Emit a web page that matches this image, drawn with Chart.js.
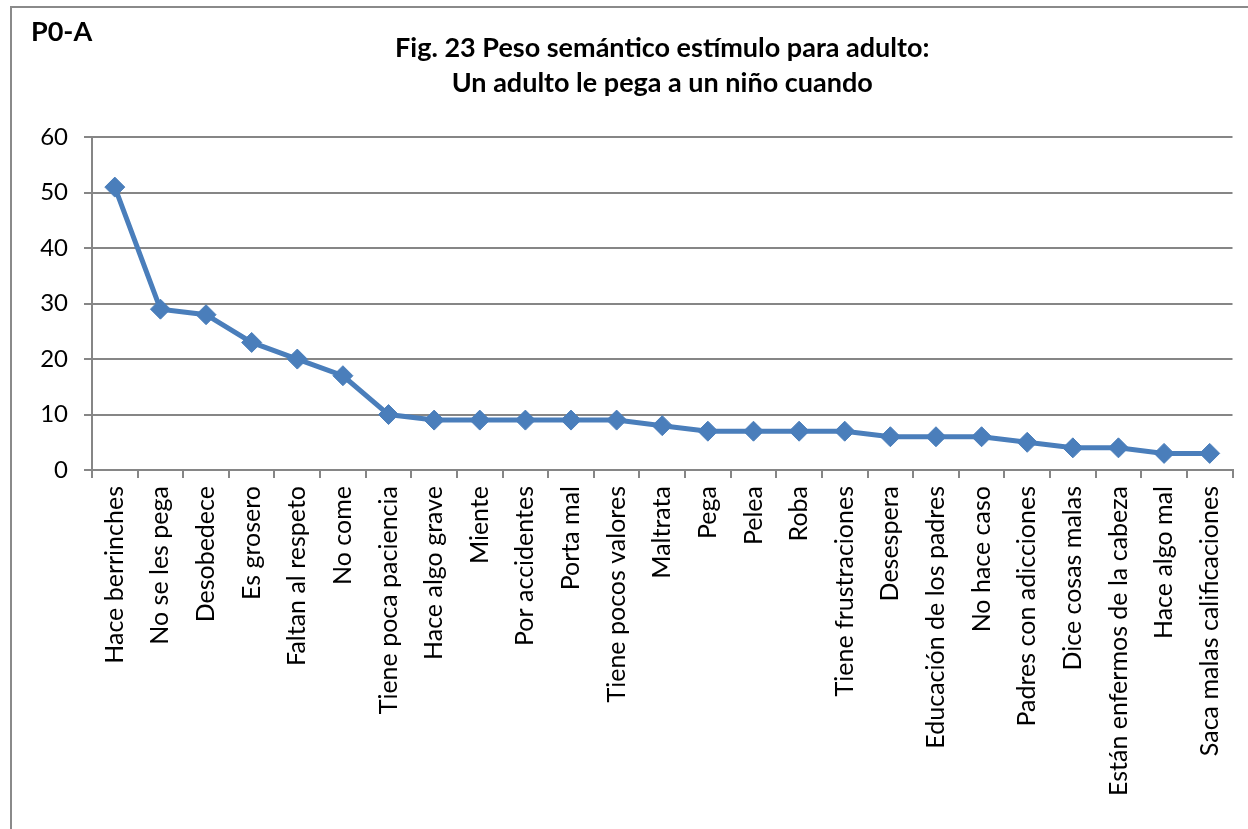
<!DOCTYPE html>
<html>
<head>
<meta charset="utf-8">
<script src="https://cdn.jsdelivr.net/npm/chart.js@4.4.1/dist/chart.umd.min.js"></script>
<style>
  html, body { margin: 0; padding: 0; background: #fff; }
  #wrap { position: relative; width: 1248px; height: 829px; overflow: hidden; }
  #frame { position: absolute; left: 10px; top: 6px; width: 1260px; height: 860px;
           border: 2px solid #8a8a8a; pointer-events: none; }
</style>
</head>
<body>
<div id="wrap">
  <canvas id="chart" width="1248" height="829"></canvas>
  <div id="frame"></div>
</div>
<script>
// Categories and values
const categories = [
    "Hace berrinches", "No se les pega", "Desobedece", "Es grosero", "Faltan al respeto",
    "No come", "Tiene poca paciencia", "Hace algo grave", "Miente", "Por accidentes",
    "Porta mal", "Tiene pocos valores", "Maltrata", "Pega", "Pelea", "Roba",
    "Tiene frustraciones", "Desespera", "Educación de los padres", "No hace caso",
    "Padres con adicciones", "Dice cosas malas", "Están enfermos de la cabeza",
    "Hace algo mal", "Saca malas calificaciones"
];
const pesoValues = [51, 29, 28, 23, 20, 17, 10, 9, 9, 9, 9, 9, 8, 7, 7, 7, 7, 6, 6, 6, 5, 4, 4, 3, 3];
const yTicks = [0, 10, 20, 30, 40, 50, 60];

const FONT = "Lato, 'Noto Sans', sans-serif";
const blue = "#4a7ebb";
const gridGray = "#868686";

// corner label "P0-A"
const cornerLabel = {
    id: "cornerLabel",
    afterDraw(chart) {
        const c = chart.ctx;
        c.save();
        c.font = "bold 27px " + FONT;
        c.fillStyle = "#000";
        c.textBaseline = "middle";
        c.fillText("P0-A", 31, 32);
        c.restore();
    }
};

const ctx = document.getElementById("chart").getContext("2d");
const chart = new Chart(ctx, {
    type: "line",
    data: {
        labels: categories,
        datasets: [{
            label: "Peso semántico",
            data: pesoValues,
            borderColor: blue,
            backgroundColor: blue,
            borderWidth: 5,
            pointStyle: "rectRot",
            pointRadius: 10,
            pointBorderWidth: 1,
            tension: 0
        }]
    },
    options: {
        responsive: false,
        animation: false,
        layout: { padding: { left: 20, right: 12, top: 0, bottom: 25 } },
        plugins: {
            legend: { display: false },
            tooltip: { enabled: false },
            title: {
                display: true,
                fullSize: false,
                text: ["Fig. 23 Peso semántico estímulo para adulto:", "Un adulto le pega a un niño cuando"],
                color: "#000",
                font: { family: FONT, size: 27, weight: "bold", lineHeight: 1.3 },
                padding: { top: 31, bottom: 36 }
            }
        },
        scales: {
            x: {
                offset: true,
                grid: {
                    offset: true,
                    drawOnChartArea: false,
                    drawTicks: true,
                    tickLength: 8,
                    color: gridGray,
                    lineWidth: 2
                },
                border: { color: gridGray, width: 2 },
                ticks: {
                    autoSkip: false,
                    maxRotation: 90,
                    minRotation: 90,
                    padding: 8,
                    color: "#000",
                    font: { family: FONT, size: 25 }
                }
            },
            y: {
                min: 0,
                max: 60,
                afterBuildTicks(scale) {
                    scale.ticks = yTicks.map(v => ({ value: v }));
                },
                afterFit(scale) {
                    scale.width = 72;
                },
                grid: {
                    color: gridGray,
                    lineWidth: 2,
                    tickLength: 8
                },
                border: { color: gridGray, width: 2 },
                ticks: {
                    padding: 16,
                    color: "#000",
                    font: { family: FONT, size: 24 }
                }
            }
        }
    },
    plugins: [cornerLabel]
});
</script>
</body>
</html>
